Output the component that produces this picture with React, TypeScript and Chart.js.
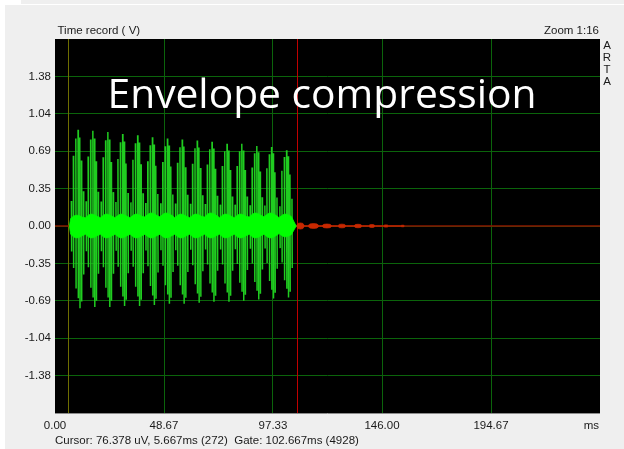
import React, { useEffect, useRef } from 'react';
import { Chart, registerables } from 'chart.js';

Chart.register(...registerables);

// ---- axis data ----
const xLimit = 243.333;
const yLimit = 1.729;
const xTickValues = [0, 48.667, 97.333, 146.0, 194.667, 243.333];
const xTickLabels = ['0.00', '48.67', '97.33', '146.00', '194.67', 'ms'];
const yTickValues = [-1.3832, -1.0374, -0.6916, -0.3458, 0, 0.3458, 0.6916, 1.0374, 1.3832];
const yTickLabels = ['-1.38', '-1.04', '-0.69', '-0.35', '0.00', '0.35', '0.69', '1.04', '1.38'];

// ---- signal data (ms, V) ----
const burstTimes = [10.3, 16.9, 23.6, 30.2, 36.9, 43.5, 50.2, 56.8, 63.5, 70.1, 76.8, 83.4, 90.1, 96.7, 103.4];
const burstTop = [0.89, 0.88, 0.87, 0.85, 0.84, 0.82, 0.81, 0.8, 0.79, 0.78, 0.76, 0.76, 0.74, 0.73, 0.7];
const burstBottom = [-0.76, -0.75, -0.75, -0.74, -0.74, -0.73, -0.72, -0.72, -0.71, -0.7, -0.7, -0.69, -0.68, -0.67, -0.66];
const spikeOffsets = [-3.0, -2.1, -1.0, 0, 0.75, 1.5, 2.4];
const spikeTopShape = [0.26, 0.73, 0.91, 1.0, 0.92, 0.68, 0.36];
const spikeBottomShape = [0.31, 0.51, 0.76, 0.88, 1.0, 0.92, 0.59];
const coreOffsets = [-3.3, -2.4, -1.5, -0.6, 0.3, 1.2, 2.1];
const coreShape = [0.7, 0.85, 0.96, 1.0, 0.97, 0.9, 0.8];
const coreTop = [0.1, 0.11, 0.11, 0.11, 0.11, 0.12, 0.12, 0.11, 0.11, 0.12, 0.11, 0.11, 0.12, 0.12, 0.11];
const coreBottom = [-0.11, -0.11, -0.11, -0.11, -0.11, -0.11, -0.11, -0.11, -0.11, -0.11, -0.11, -0.11, -0.11, -0.11, -0.1];
const signalStart = 6.4;
const signalEnd = 107.7;
const tailCenters = [109.6, 115.4, 121.4, 128.1, 135.3, 141.5, 147.8, 155.2];
const tailHalfWidths = [1.8, 2.6, 2.3, 1.9, 1.9, 1.5, 1.1, 0.8];
const tailAmps = [0.028, 0.022, 0.018, 0.017, 0.016, 0.013, 0.01, 0.007];
const tailShapeOffsets = [-1, -0.6, 0, 0.6, 1];
const tailShapeAmps = [0, 0.85, 1, 0.85, 0];
const baselineTimes = [0, xLimit];
const baselineValues = [0, 0];
const cursorTime = 5.667;
const gateMarkerTime = 108.2;

const FONT = '"Liberation Sans", Arial, sans-serif';

function buildSpikes() {
  const pts: { x: number; y: number | null }[] = [];
  burstTimes.forEach((t, b) => {
    spikeOffsets.forEach((o, k) => {
      pts.push({ x: t + o, y: burstTop[b] * spikeTopShape[k] });
      pts.push({ x: t + o + 0.12, y: burstBottom[b] * spikeBottomShape[k] });
      pts.push({ x: t + o + 0.2, y: null });
    });
  });
  return pts;
}

function buildCore(upper: boolean) {
  const pts: { x: number; y: number }[] = [{ x: signalStart, y: 0 }];
  burstTimes.forEach((t, b) => {
    coreOffsets.forEach((o, k) => {
      pts.push({ x: t + o, y: (upper ? coreTop[b] : coreBottom[b]) * coreShape[k] });
    });
  });
  pts.push({ x: signalEnd, y: 0 });
  return pts;
}

function buildTail(sign: number) {
  const pts: { x: number; y: number }[] = [];
  tailCenters.forEach((c, i) => {
    tailShapeOffsets.forEach((f, k) => {
      pts.push({ x: c + f * tailHalfWidths[i], y: sign * tailAmps[i] * tailShapeAmps[k] });
    });
  });
  return pts;
}

const backgroundPlugin = {
  id: 'bg',
  beforeDraw(chart: any) {
    const { ctx, width, height, chartArea } = chart;
    ctx.save();
    ctx.fillStyle = '#ffffff';
    ctx.fillRect(0, 0, width, height);
    ctx.fillStyle = '#efefef';
    ctx.fillRect(21, 0, width - 21, 4);
    ctx.fillRect(5, 5, width - 5, height - 5);
    ctx.fillStyle = '#000000';
    ctx.fillRect(chartArea.left, chartArea.top, chartArea.right - chartArea.left, chartArea.bottom - chartArea.top);
    ctx.restore();
  },
  beforeDatasetsDraw(chart: any) {
    const { ctx, chartArea, scales } = chart;
    ctx.save();
    ctx.lineWidth = 1;
    const cx = Math.round(scales.x.getPixelForValue(cursorTime)) + 0.5;
    ctx.strokeStyle = '#6e6e00';
    ctx.beginPath();
    ctx.moveTo(cx, chartArea.top);
    ctx.lineTo(cx, chartArea.bottom);
    ctx.stroke();
    const gx = Math.round(scales.x.getPixelForValue(gateMarkerTime)) + 0.5;
    ctx.strokeStyle = '#c00000';
    ctx.beginPath();
    ctx.moveTo(gx, chartArea.top);
    ctx.lineTo(gx, chartArea.bottom);
    ctx.stroke();
    ctx.restore();
  },
  afterDraw(chart: any) {
    const { ctx, chartArea, scales } = chart;
    ctx.save();
    ctx.strokeStyle = '#8c8c8c';
    ctx.lineWidth = 1;
    ctx.beginPath();
    ctx.moveTo(chartArea.left, chartArea.bottom + 0.5);
    ctx.lineTo(chartArea.right, chartArea.bottom + 0.5);
    ctx.stroke();

    ctx.fillStyle = '#ffffff';
    ctx.textBaseline = 'alphabetic';
    ctx.textAlign = 'left';
    ctx.font = '40px "Open Sans", sans-serif';
    const w = ctx.measureText('Envelope compression').width;
    const size = 40 * 429 / w;
    ctx.font = `${size.toFixed(2)}px "Open Sans", sans-serif`;
    ctx.fillText('Envelope compression', 107.5, 107.5);

    ctx.fillStyle = '#1a1a1a';
    ctx.font = `11.5px ${FONT}`;
    ctx.textBaseline = 'middle';
    ctx.textAlign = 'left';
    ctx.fillText('Time record ( V)', 57.5, 31);
    ctx.textAlign = 'right';
    ctx.fillText('Zoom 1:16', chartArea.right - 1, 31);
    ctx.textAlign = 'center';
    ['A', 'R', 'T', 'A'].forEach((ch, i) => ctx.fillText(ch, 607, 46 + i * 12));

    xTickValues.forEach((v, i) => {
      const px = scales.x.getPixelForValue(v);
      if (i === xTickValues.length - 1) {
        ctx.textAlign = 'right';
        ctx.fillText(xTickLabels[i], chartArea.right - 1, 426);
      } else {
        ctx.textAlign = 'center';
        ctx.fillText(xTickLabels[i], px, 426);
      }
    });
    ctx.textAlign = 'left';
    ctx.fillText('Cursor: 76.378 uV, 5.667ms (272)  Gate: 102.667ms (4928)', 55, 441);
    ctx.restore();
  },
};

export default function App() {
  const ref = useRef<HTMLCanvasElement | null>(null);
  useEffect(() => {
    if (!ref.current) return;
    const green = '#00ff00';
    const red = '#c82800';
    const line = (label: string, data: any[], color: string, width: number, fill: any, order: number) => ({
      label,
      data,
      borderColor: color,
      backgroundColor: color,
      borderWidth: width,
      fill,
      pointRadius: 0,
      tension: 0,
      spanGaps: false,
      order,
    });
    const chart = new Chart(ref.current, {
      type: 'line',
      data: {
        datasets: [
          line('core upper', buildCore(true), green, 0.8, 'origin', 1),
          line('core lower', buildCore(false), green, 0.8, 'origin', 1),
          line('spikes', buildSpikes(), '#20cc20', 1.5, false, 2),
          line('tail upper', buildTail(1), red, 0.8, 'origin', 3),
          line('tail lower', buildTail(-1), red, 0.8, 'origin', 3),
          line('baseline', baselineTimes.map((t, i) => ({ x: t, y: baselineValues[i] })), '#8a1600', 1.5, false, 4),
        ],
      },
      options: {
        animation: false,
        responsive: false,
        events: [],
        layout: { padding: { top: 39, right: 24, bottom: 36, left: 0 } },
        plugins: { legend: { display: false }, tooltip: { enabled: false }, title: { display: false } },
        scales: {
          x: {
            type: 'linear',
            min: 0,
            max: xLimit,
            afterBuildTicks: (scale: any) => {
              scale.ticks = xTickValues.slice(1, -1).map((v) => ({ value: v }));
            },
            ticks: { display: false },
            grid: { color: '#0b640b', lineWidth: 1, drawTicks: false },
            border: { display: false },
            afterFit: (scale: any) => {
              scale.height = 0;
            },
          },
          y: {
            type: 'linear',
            min: -yLimit,
            max: yLimit,
            afterBuildTicks: (scale: any) => {
              scale.ticks = yTickValues.map((v) => ({ value: v }));
            },
            ticks: {
              padding: 4,
              color: '#1a1a1a',
              font: { family: FONT, size: 11.5 },
              callback: (_v: any, i: number) => yTickLabels[i],
            },
            grid: { color: '#0b640b', lineWidth: 1, drawTicks: false },
            border: { display: false },
            afterFit: (scale: any) => {
              scale.width = 55;
            },
          },
        },
      },
      plugins: [backgroundPlugin],
    } as any);
    return () => chart.destroy();
  }, []);
  return (
    <div style={{ position: 'absolute', left: 0, top: 0, width: 624, height: 449 }}>
      <canvas ref={ref} width={624} height={449} style={{ display: 'block' }} />
    </div>
  );
}
